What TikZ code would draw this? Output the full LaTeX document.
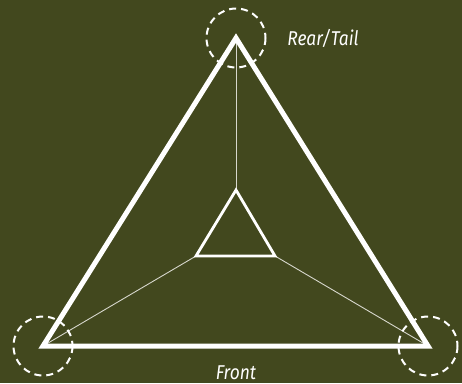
\documentclass[tikz,border=0pt]{standalone}
\usepackage{fontspec}
\newfontfamily\lblfont[FakeStretch=0.87]{Fira Sans}
\definecolor{bg}{RGB}{66,72,30}
\definecolor{thin}{RGB}{215,215,205}
\begin{document}
\begin{tikzpicture}[x=1pt,y=-1pt,
  outer/.style={draw=white,line width=5pt,line join=miter},
  inner/.style={draw=white,line width=2.8pt,line join=miter},
  link/.style={draw=thin,line width=0.9pt},
  zone/.style={draw=white,line width=2pt,dash pattern=on 7pt off 5pt},
  lbl/.style={text=white,inner sep=0pt,font=\lblfont\itshape\fontsize{20}{22}\selectfont}]
\fill[bg] (0,0) rectangle (462,383);
\useasboundingbox (0,0) rectangle (462,383);
\coordinate (T) at (236,38);
\coordinate (L) at (43,346);
\coordinate (R) at (428,346);
\coordinate (t) at (236,190);
\coordinate (l) at (196,256);
\coordinate (r) at (275,256);
\draw[link] (T) -- (t);
\draw[link] (L) -- (l);
\draw[link] (R) -- (r);
\draw[outer] (T) -- (L) -- (R) -- cycle;
\draw[inner] (t) -- (l) -- (r) -- cycle;
\draw[zone] (T) circle (29.5);
\draw[zone] (L) circle (29.5);
\draw[zone] (R) circle (29.5);
\node[lbl,anchor=base] (rear) at (323,45) {Rear/Tail};
\node[lbl,anchor=base] (front) at (236,379) {Front};
\end{tikzpicture}
\end{document}
